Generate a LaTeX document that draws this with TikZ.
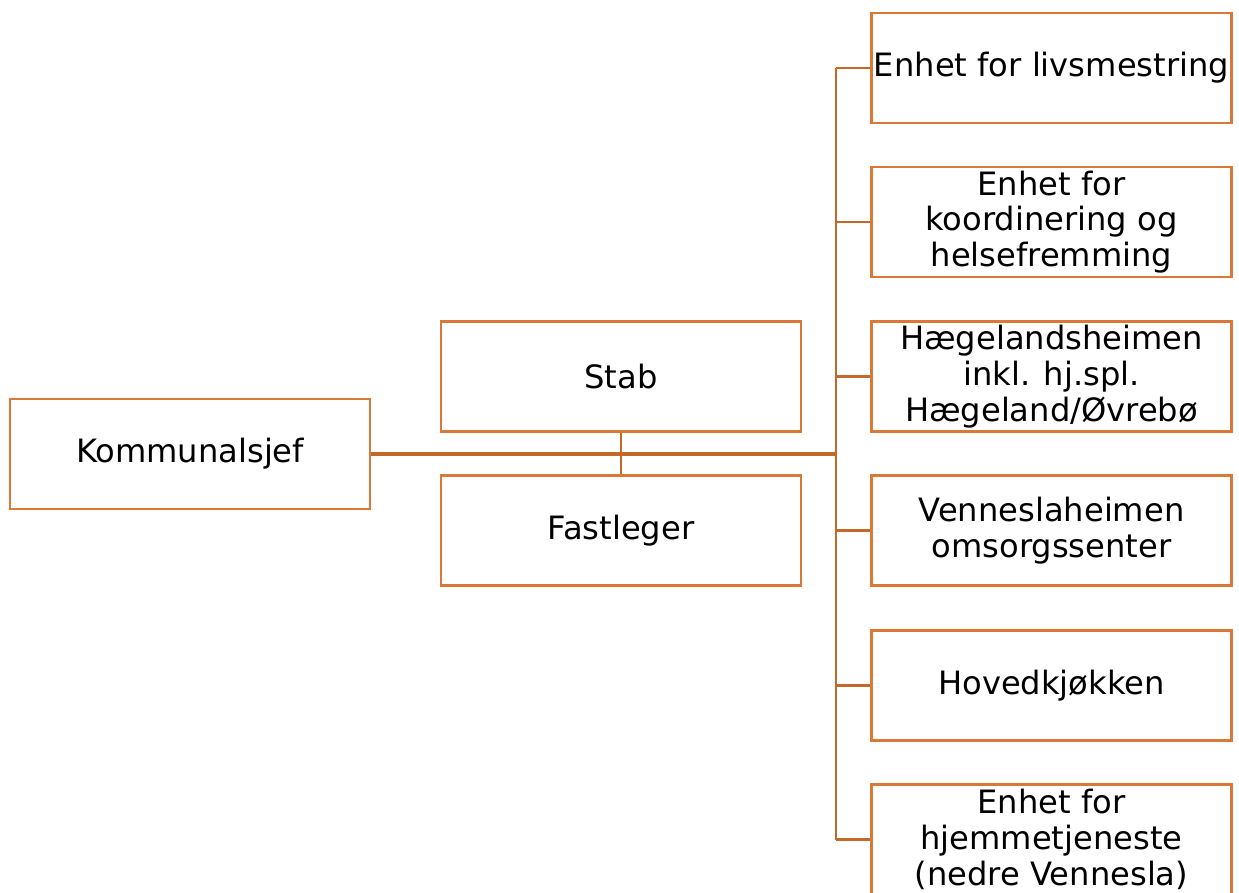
\documentclass[tikz,border=0pt]{standalone}
\usepackage{fontspec}
\setmainfont{DejaVu Sans}
\usepackage{xcolor}
\usetikzlibrary{positioning, calc}

\definecolor{boxline}{HTML}{DA7838}
\definecolor{busline}{HTML}{C4672A}

\begin{document}
\begin{tikzpicture}[
  x=0.02cm, y=-0.02cm,
  unit/.style={draw=boxline, line width=1.4pt, fill=white, minimum width=7.2cm,
               minimum height=2.2cm, inner sep=0pt, align=center,
               font=\fontsize{18.3}{20.4}\selectfont},
  link/.style={busline, line width=1.3pt},
  mainlink/.style={busline, line width=2.3pt}
]
  \useasboundingbox (0,0) rectangle (1239,892);
  \clip (0,0) rectangle (1239,892);

  % left part
  \node[unit] (ks) at (190,454)   {Kommunalsjef};
  \node[unit] (stab) at (621,376.5) {Stab};
  \node[unit] (fl) at (621,530.5)   {Fastleger};
  \coordinate (bus) at (836,454);

  % units on the right
  \node[unit] (u1) at (1051.5,68)    {Enhet for livsmestring};
  \node[unit] (u2) at (1051.5,222)   {Enhet for\\koordinering og\\helsefremming};
  \node[unit] (u3) at (1051.5,376.5) {Hægelandsheimen\\inkl. hj.spl.\\Hægeland/Øvrebø};
  \node[unit] (u4) at (1051.5,530.5) {Venneslaheimen\\omsorgssenter};
  \node[unit] (u5) at (1051.5,685.5) {Hovedkjøkken};
  \node[unit] (u6) at (1051.5,839.5) {Enhet for\\hjemmetjeneste\\(nedre Vennesla)};

  \draw[link] (stab) -- (fl);
  \draw[link] (u1.west -| bus) -- (u6.west -| bus);
  \foreach \u in {u1,u2,u3,u4,u5,u6}
    \draw[link] (\u.west) -- (\u.west -| bus);
  \draw[mainlink] (ks.east) -- (bus);
\end{tikzpicture}
\end{document}
